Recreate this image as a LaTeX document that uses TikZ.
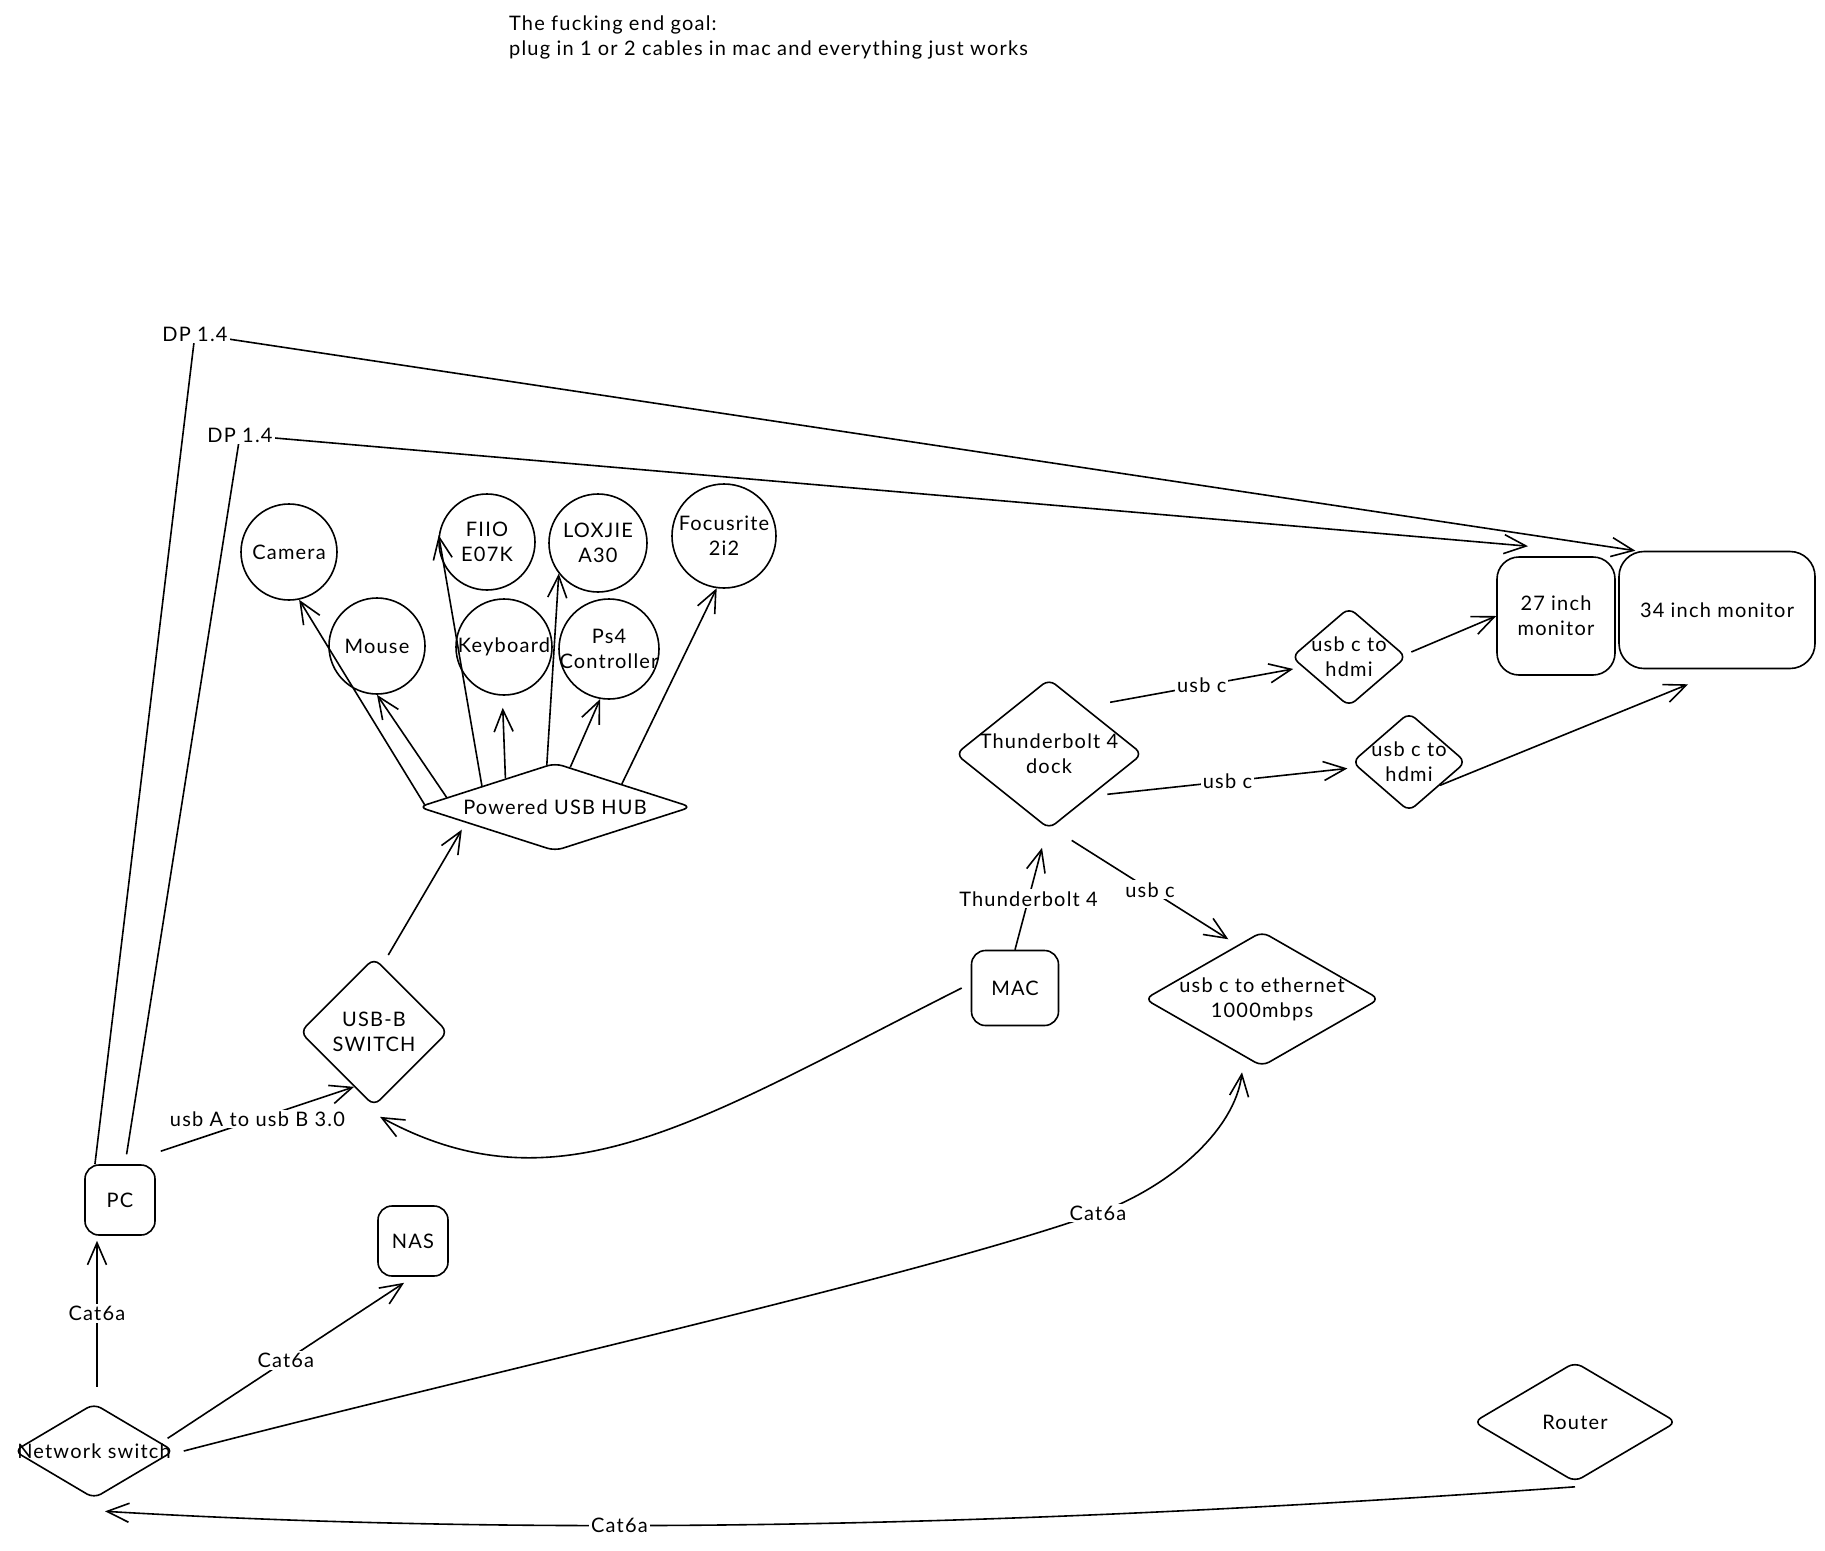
\documentclass[tikz,border=0pt]{standalone}
\usepackage{fontspec}
\setmainfont{Lato}[LetterSpace=6]
\usetikzlibrary{shapes.geometric,arrows.meta,calc}
\begin{document}
\begin{tikzpicture}[x=1pt,y=-1pt,line width=1.6pt,
  >={Straight Barb[length=22pt,width=19pt,line width=1.6pt]},
  every node/.style={font=\fontsize{20}{25}\selectfont},
  dev/.style={circle,draw,inner sep=-6pt,align=center},
  box/.style={rectangle,draw,rounded corners=14pt,align=center,inner sep=0pt},
  dia/.style={diamond,draw,rounded corners=8pt,align=center,inner sep=-8pt},
  lbl/.style={fill=white,inner sep=2pt}]
\fill[white] (0,0) rectangle (1825,1550);
\useasboundingbox (0,0) rectangle (1825,1550);

\node[anchor=north west,align=left] (title) at (505,12) {The fucking end goal:\\plug in 1 or 2 cables in mac and everything just works};

% devices on the hub
\node[dev,minimum size=96pt] (cam) at (289,552) {Camera};
\node[dev,minimum size=96pt] (mouse) at (377,646) {Mouse};
\node[dev,minimum size=96pt] (fiio) at (487,542) {FIIO\\E07K};
\node[dev,minimum size=96pt] (kbd) at (504,647) {Keyboard};
\node[dev,minimum size=98pt] (lox) at (598,543) {LOXJIE\\A30};
\node[dev,minimum size=100pt] (ps4) at (609,649) {Ps4\\Controller};
\node[dev,minimum size=104pt] (foc) at (724,536) {Focusrite\\2i2};

\node[dia,minimum width=273pt,minimum height=88pt,aspect=3.1] (hub) at (555,807) {Powered USB HUB};
\node[dia,minimum width=148pt,minimum height=148pt] (usbb) at (374,1032) {USB-B\\SWITCH};
\node[box,minimum width=70pt,minimum height=70pt] (pc) at (120,1200) {PC};
\node[box,minimum width=70pt,minimum height=70pt] (nas) at (413,1241) {NAS};
\node[dia,minimum width=160pt,minimum height=95pt,aspect=1.7] (ns) at (94,1451) {Network switch};
\node[dia,minimum width=203pt,minimum height=120pt,aspect=1.7] (router) at (1575,1422) {Router};
\node[box,minimum width=87pt,minimum height=75pt] (mac) at (1015,988) {MAC};
\node[dia,minimum width=187pt,minimum height=150pt,aspect=1.25] (dock) at (1049,754) {Thunderbolt 4\\dock};
\node[dia,minimum width=115pt,minimum height=99pt,aspect=1.16] (hdmi1) at (1349,657) {usb c to\\hdmi};
\node[dia,minimum width=114pt,minimum height=99pt,aspect=1.16] (hdmi2) at (1409,762) {usb c to\\hdmi};
\node[dia,minimum width=235pt,minimum height=135pt,aspect=1.74] (eth) at (1262,999) {usb c to ethernet\\1000mbps};
\node[box,rounded corners=22pt,minimum width=118pt,minimum height=118pt] (m27) at (1556,616) {27 inch\\monitor};
\node[box,rounded corners=25pt,minimum width=196pt,minimum height=117pt] (m34) at (1717,610) {34 inch monitor};

% DP cables
\draw[->] (pc.125) -- (195,334) node[lbl] (dp1) {DP 1.4} -- (m34.144);
\draw[->,shorten <=10pt] (pc.82) -- (240,435) node[lbl] (dp2) {DP 1.4} -- ([shift={(-28pt,10pt)}]m27.north);

% hub to devices
\draw[->] (hub.179) -- (cam.-78);
\draw[->] (hub.175) -- (mouse.-90);
\draw[->] (hub.164) -- (fiio.172);
\draw[->,shorten >=12pt] (hub.150) -- (kbd.-92);
\draw[->] (hub.101) -- (lox.218);
\draw[->] (hub.69) -- (ps4.-100);
\draw[->] (hub.19) -- (foc.-98);

\draw[->,shorten <=12pt,shorten >=8pt] (usbb.83) -- (hub.190);

\draw[->] ([shift={(5pt,13pt)}]pc.north east) -- node[lbl] (l1) {usb A to usb B 3.0} (usbb.250);

\draw[->] ([shift={(3pt,16pt)}]ns.north) -- node[lbl] (l2) {Cat6a} ([shift={(-23pt,-5pt)}]pc.south);
\draw[->] ([xshift=14pt]ns.12) -- node[lbl] (l3) {Cat6a} ([yshift=-6pt]nas.256);
\draw[->] ([xshift=9pt]ns.east) .. controls (488,1372) and (921,1276) .. (1098,1213) node[lbl] (l4) {Cat6a}
  .. controls (1170,1187) and (1235,1130) .. ([shift={(-20pt,-5pt)}]eth.south);
\draw[->] ([yshift=-4pt]router.south) .. controls (1085,1522) and (595,1540) .. ([shift={(11pt,-12pt)}]ns.south) node[lbl,pos=0.65] (l5) {Cat6a};

\draw[->] ([xshift=-9pt]mac.west) .. controls (700,1120) and (560,1215) .. ([shift={(6pt,-10pt)}]usbb.south);
\draw[->] (mac.north) -- node[lbl] (l6) {Thunderbolt 4} ([shift={(-7pt,-18pt)}]dock.south);

\draw[->] ([shift={(6pt,-24pt)}]dock.-75) -- node[lbl] (l7) {usb c} ([shift={(-5pt,8pt)}]eth.119);
\draw[->] ([shift={(15pt,13pt)}]dock.40) -- node[lbl] (l8) {usb c} ([shift={(-9pt,-2pt)}]hdmi1.192);
\draw[->] ([shift={(8pt,-5pt)}]dock.-35) -- node[lbl] (l9) {usb c} ([shift={(-10pt,-1pt)}]hdmi2.186);

\draw[->] ([shift={(4pt,5pt)}]hdmi1.east) -- (m27.west);
\draw[->] (hdmi2.-37) -- ([yshift=-15pt]m34.244);
\end{tikzpicture}
\end{document}
